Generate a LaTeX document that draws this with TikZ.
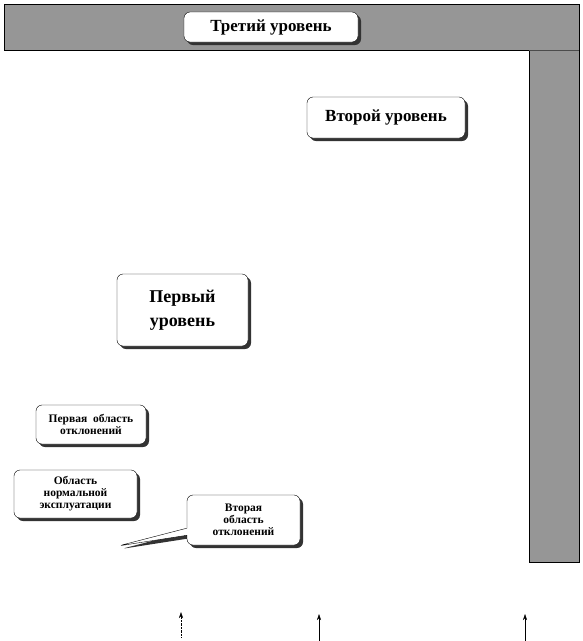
\documentclass[tikz,border=0pt]{standalone}
\usepackage{fontspec}
\setmainfont{Liberation Serif}
\usepackage{tikz}
\usetikzlibrary{arrows.meta,shapes.callouts,shadows}
\definecolor{levelgrey}{RGB}{150,150,150}

\begin{document}
\begin{tikzpicture}[x=1pt,y=-1pt,
    level/.style={rectangle, rounded corners=6pt, draw=black, thin, fill=white, align=center, font=\bfseries,
      drop shadow={shadow xshift=3pt, shadow yshift=-3pt, fill=black!80, opacity=1}},
    small/.style={font=\bfseries\fontsize{11.5}{12}\selectfont},
    arrow/.style={-{Stealth[length=6pt,width=4pt]}, thin}
]
\useasboundingbox (0,0) rectangle (582,641);
% grey frame
\draw[fill=levelgrey, thin] (4,4) rectangle (579,50);
\draw[fill=levelgrey, thin] (529,50) rectangle (579,562);
\draw[black!70, thick] (529,50) -- (579,50);

\node[level, minimum width=174pt, minimum height=30pt, font=\bfseries\fontsize{17}{20}\selectfont] (third) at (271,27) {Третий уровень};
\node[level, minimum width=158pt, minimum height=41pt, font=\bfseries\fontsize{17}{20}\selectfont] (second) at (386,117.5) {Второй уровень};
\node[level, minimum width=131pt, minimum height=72pt, font=\bfseries\fontsize{18}{24}\selectfont] (first) at (182.5,310) {Первый\\уровень};
\node[level, small, minimum width=110pt, minimum height=39pt] (dev1) at (91,424.5) {Первая~~область\\отклонений};
\node[level, small, minimum width=123pt, minimum height=48pt] (normal) at (75.5,494) {Область\\нормальной\\эксплуатации};
\coordinate (tip) at (118,546);
\node[level, small, rectangle callout, callout absolute pointer={(tip)}, minimum width=113pt, minimum height=50pt] (dev2) at (243.5,520) {Вторая\\область\\отклонений};

% arrows at the bottom
\coordinate (a1) at (181,637);
\coordinate (b1) at (181,612);
\coordinate (a2) at (319,641);
\coordinate (b2) at (319,614);
\coordinate (a3) at (525,641);
\coordinate (b3) at (525,614);
\draw[arrow, densely dotted] (a1) -- (b1);
\draw[arrow] (a2) -- (b2);
\draw[arrow] (a3) -- (b3);
\end{tikzpicture}
\end{document}
